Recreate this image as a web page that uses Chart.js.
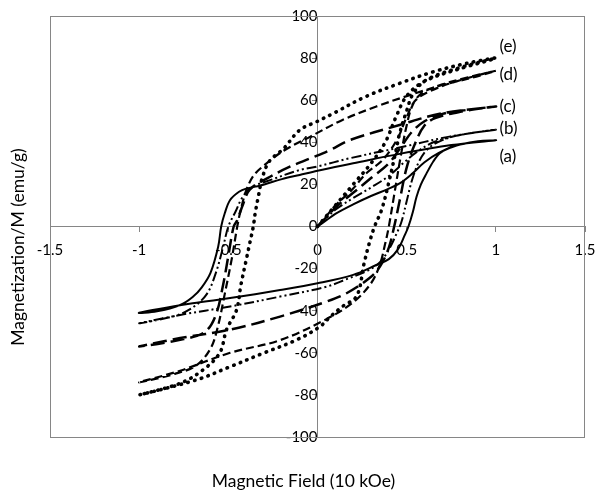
<!DOCTYPE html>
<html><head><meta charset="utf-8">
<script src="https://cdn.jsdelivr.net/npm/chart.js@4/dist/chart.umd.min.js"></script>
<style>html,body{margin:0;padding:0;background:#fff}#wrap{width:596px;height:491px;position:relative}</style>
</head><body><div id="wrap"><canvas id="c" width="596" height="491"></canvas></div>
<script>
// ---- data (Magnetic field in 10 kOe, magnetization in emu/g) ----
const seriesNames = ['(a)', '(b)', '(c)', '(d)', '(e)'];

const fieldA = [0,0.05,0.1,0.2,0.3,0.4,0.47,0.53,0.6,0.68,0.78,0.9,1,
  0.75,0.46,0.2,0,-0.1,-0.2,-0.32,-0.4,-0.44,-0.49,-0.52,-0.54,-0.557,-0.6,-0.65,-0.7,-0.77,-0.9,-1,
  -0.7,-0.49,-0.21,0,0.2,0.33,0.4,0.45,0.49,0.51,0.535,0.555,0.58,0.61,0.65,0.686,0.74,0.8,0.9,1];
const magA = [0,3,6,10.5,14.5,18,21,25,30.5,35,38.5,40.3,41,
  38.7,34.5,30,26.5,24.5,22.5,19.5,18,16.5,12.6,6.3,0,-9.6,-22,-29,-33.5,-37.3,-40.3,-41,
  -36.5,-34,-30.2,-27,-23,-18.3,-15.5,-11,-4,0,7,14,20,25,31,34.8,37.5,39,40.5,41];

const fieldB = [0,0.05,0.1,0.2,0.3,0.4,0.48,0.55,0.65,0.8,1,
  0.74,0.46,0.18,0,-0.1,-0.25,-0.37,-0.42,-0.46,-0.5,-0.53,-0.57,-0.62,-0.7,-0.8,-1,
  -0.77,-0.49,-0.21,0.05,0.163,0.28,0.35,0.4,0.44,0.47,0.5,0.53,0.57,0.62,0.7,0.8,1];
const magB = [0,4,8,13.5,18.5,24,30,35,40,43.5,46,
  42.7,37.5,32.4,28.5,26.8,22.5,18.5,14,7,0,-10,-22,-32,-38.5,-42.5,-46,
  -42,-38,-33.3,-28.6,-25,-21,-17,-11,-4,2,12,22,31,37,41,43.5,46];

const fieldC = [0,0.05,0.1,0.2,0.3,0.4,0.47,0.53,0.6,0.7,0.85,1,
  0.7,0.46,0.18,0.07,-0.04,-0.155,-0.28,-0.38,-0.42,-0.45,-0.47,-0.5,-0.53,-0.57,-0.63,-0.75,-1,
  -0.77,-0.49,-0.21,0.05,0.163,0.29,0.35,0.4,0.43,0.46,0.5,0.55,0.6,0.66,0.8,1];
const magC = [0,4.5,9,16,23,30,38,45,50,53.5,55.5,57,
  53.8,48.2,41,36.3,32.4,28.4,23,17.5,10,3,0,-14,-28,-42,-50,-53.5,-57,
  -53,-49,-42.8,-35.7,-31.7,-24.6,-19,-10,0,12,28,40,48,51.5,54.5,57];

const fieldD = [0,0.05,0.1,0.2,0.27,0.37,0.45,0.5,0.55,0.65,0.8,1,
  0.89,0.7,0.52,0.33,0.14,-0.04,-0.19,-0.3,-0.36,-0.4,-0.43,-0.45,-0.48,-0.52,-0.56,-0.6,-0.68,-0.8,-1,
  -0.77,-0.49,-0.21,0.05,0.2,0.3,0.35,0.38,0.4,0.43,0.47,0.5,0.53,0.58,0.7,0.85,1];
const magD = [0,5,10,18,25,32,42,52,60,65,69.5,74,
  71.2,67.2,62.5,57,50.6,42.7,36,29,24,17,8,0,-15,-32,-48,-58,-66,-70,-74,
  -68.5,-60,-54,-44,-36,-27,-18,-8,0,15,35,48,57,63,67.5,71,74];

const fieldE = [0,0.1,0.2,0.3,0.38,0.44,0.5,0.6,0.8,1,
  0.836,0.65,0.46,0.27,0.09,0,-0.1,-0.19,-0.27,-0.31,-0.33,-0.35,-0.36,-0.38,-0.4,-0.43,-0.454,-0.51,-0.548,-0.64,-0.77,-1,
  -0.68,-0.49,-0.305,-0.118,0.013,0.07,0.14,0.22,0.26,0.29,0.32,0.36,0.4,0.44,0.46,0.5,0.536,0.61,0.8,1];
const magE = [0,10,20,30,40,52,62,69,75,80,
  77.5,73.5,68,61.7,53.8,50,45.8,37,31,23,15,6,0,-8,-16,-28,-39.7,-49,-60,-68,-74.5,-80,
  -72.9,-66.6,-60.2,-53.9,-47.6,-43,-38,-33,-18,-8,0,8,21,36,44,55,63,69.6,75.5,80];

const xTicks = [-1.5, -1, -0.5, 0, 0.5, 1, 1.5];
const yTicks = [-100, -80, -60, -40, -20, 0, 20, 40, 60, 80, 100];

// series label anchors (data coordinates)
const labelField = [1.02, 1.02, 1.02, 1.02, 1.02];
const labelMag = [33.2, 46.6, 57, 72, 85.4];

const xTitle = 'Magnetic Field (10 kOe)';
const yTitle = 'Magnetization/M (emu/g)';

// ---- build ----
const fields = [fieldA, fieldB, fieldC, fieldD, fieldE];
const mags = [magA, magB, magC, magD, magE];
const styles = [
  {dash: [], width: 2, cap: 'butt'},
  {dash: [10, 3, 2, 3, 2, 3], width: 2, cap: 'butt'},
  {dash: [14, 6], width: 2.5, cap: 'butt'},
  {dash: [8, 4], width: 2.2, cap: 'butt'},
  {dash: [0.5, 6.5], width: 3.6, cap: 'round'}
];
const datasets = fields.map((f, i) => ({
  label: seriesNames[i],
  data: f.map((x, j) => ({x: x, y: mags[i][j]})),
  showLine: true,
  borderColor: '#000',
  backgroundColor: '#000',
  borderWidth: styles[i].width,
  borderDash: styles[i].dash,
  borderCapStyle: styles[i].cap,
  borderJoinStyle: 'round',
  pointRadius: 0,
  tension: 0.35,
  fill: false
}));

const AXIS = '#868686';
const FONT = 'Lato, "Open Sans", sans-serif';

const decor = {
  id: 'decor',
  beforeDatasetsDraw(chart) {
    const {ctx, chartArea: a} = chart;
    ctx.save();
    ctx.strokeStyle = AXIS;
    ctx.lineWidth = 1;
    ctx.strokeRect(Math.round(a.left) + 0.5, Math.round(a.top) + 0.5,
      Math.round(a.right - a.left) - 1, Math.round(a.bottom - a.top));
    ctx.restore();
  },
  afterDraw(chart) {
    const {ctx, chartArea: a, scales} = chart;
    ctx.save();
    ctx.fillStyle = '#000';
    ctx.font = '17.5px ' + FONT;
    ctx.textAlign = 'center';
    ctx.textBaseline = 'middle';
    ctx.fillText(xTitle, (a.left + a.right) / 2 - 14, 481);
    ctx.save();
    ctx.translate(18, 247);
    ctx.rotate(-Math.PI / 2);
    ctx.fillText(yTitle, 0, 0);
    ctx.restore();
    ctx.font = '17px ' + FONT;
    ctx.textAlign = 'left';
    seriesNames.forEach((n, i) => {
      ctx.fillText(n, scales.x.getPixelForValue(labelField[i]), scales.y.getPixelForValue(labelMag[i]));
    });
    ctx.restore();
  }
};

new Chart(document.getElementById('c'), {
  type: 'scatter',
  data: {datasets},
  options: {
    responsive: false,
    animation: false,
    devicePixelRatio: 1,
    layout: {padding: {left: 50, right: 11, top: 16, bottom: 54}},
    plugins: {legend: {display: false}, tooltip: {enabled: false}},
    scales: {
      x: {
        type: 'linear', min: -1.5, max: 1.5,
        position: {y: 0},
        afterBuildTicks: s => { s.ticks = xTicks.map(v => ({value: v})); },
        afterFit: s => { s.paddingLeft = 0; s.paddingRight = 0; },
        ticks: {color: '#000', font: {family: FONT, size: 15}, padding: 10, maxRotation: 0, autoSkip: false,
          callback: v => String(v)},
        grid: {drawOnChartArea: false, drawTicks: true, tickLength: 5, color: AXIS},
        border: {display: true, color: AXIS, width: 1}
      },
      y: {
        type: 'linear', min: -100, max: 100,
        position: {x: 0},
        afterBuildTicks: s => { s.ticks = yTicks.map(v => ({value: v})); },
        afterFit: s => { s.paddingTop = 0; s.paddingBottom = 0; },
        ticks: {color: '#000', font: {family: FONT, size: 15}, padding: 22, autoSkip: false,
          callback: v => String(v)},
        grid: {drawOnChartArea: false, drawTicks: true, tickLength: 5, color: AXIS},
        border: {display: true, color: AXIS, width: 1}
      }
    }
  },
  plugins: [decor]
});
</script>
</body></html>
